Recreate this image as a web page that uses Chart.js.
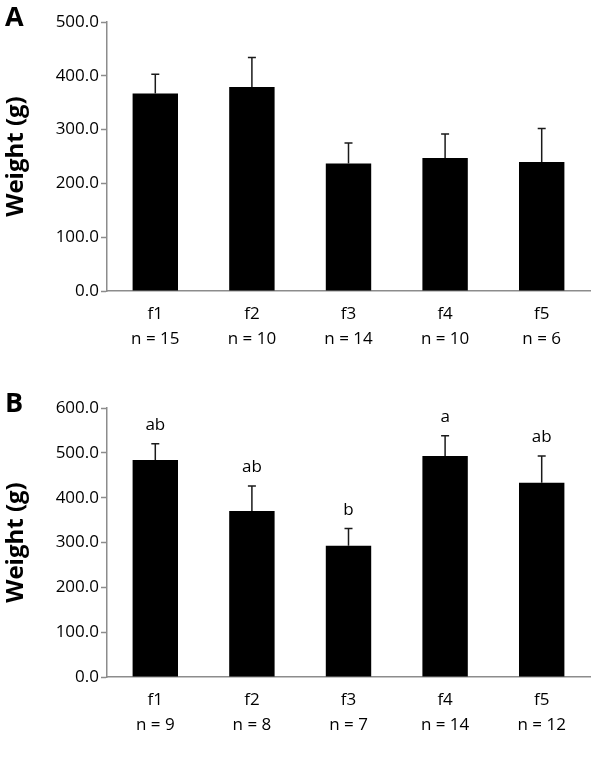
<!DOCTYPE html>
<html>
<head>
<meta charset="utf-8">
<script src="https://cdn.jsdelivr.net/npm/chart.js@4.4.1/dist/chart.umd.min.js"></script>
<style>
  body { margin: 0; background: #fff; }
  .panel { position: relative; width: 600px; }
  #panelA { height: 370px; }
  #panelB { height: 389px; }
</style>
</head>
<body>
<div class="panel" id="panelA"><canvas id="chartA"></canvas></div>
<div class="panel" id="panelB"><canvas id="chartB"></canvas></div>
<script>
// datos
const categorias = ["f1", "f2", "f3", "f4", "f5"];
const nA = [15, 10, 14, 10, 6];
const mediaA = [367, 379, 237, 247, 240];
const errorA = [36, 55, 38, 45, 62];

const nB = [9, 8, 7, 14, 12];
const mediaB = [484, 370, 293, 493, 433];
const errorB = [36, 56, 38, 45, 60];
const letrasB = ["ab", "ab", "b", "a", "ab"];

const fuente = "'Open Sans', sans-serif";
const gris = "#8c8c8c";

// barras de error (solo hacia arriba) y letras
const pluginError = {
  id: "errorBars",
  afterDatasetsDraw(chart, args, opts) {
    const ctx = chart.ctx;
    const meta = chart.getDatasetMeta(0);
    const y = chart.scales.y;
    ctx.save();
    meta.data.forEach((bar, i) => {
      const v = opts.media[i];
      const top = y.getPixelForValue(v + opts.error[i]);
      const base = y.getPixelForValue(v);
      ctx.strokeStyle = "#1a1a1a";
      ctx.lineWidth = 1.5;
      ctx.beginPath();
      ctx.moveTo(bar.x, base);
      ctx.lineTo(bar.x, top);
      ctx.moveTo(bar.x - 4, top);
      ctx.lineTo(bar.x + 4, top);
      ctx.stroke();
      if (opts.letras) {
        ctx.fillStyle = "#000";
        ctx.font = "17px " + fuente;
        ctx.textAlign = "center";
        ctx.textBaseline = "bottom";
        ctx.fillText(opts.letras[i], bar.x, top - 10);
      }
    });
    ctx.restore();
  }
};

const pluginLetra = {
  id: "panelLetra",
  afterDraw(chart, args, opts) {
    const ctx = chart.ctx;
    ctx.save();
    ctx.fillStyle = "#000";
    ctx.font = "bold 27px " + fuente;
    ctx.textAlign = "left";
    ctx.textBaseline = "top";
    ctx.fillText(opts.texto, opts.x, opts.y);
    ctx.restore();
  }
};

function crearGrafico(id, medias, errores, ns, max, letras, panel, padTop, alturaX) {
  const etiquetas = categorias.map((c, i) => [c, "n = " + ns[i]]);
  return new Chart(document.getElementById(id), {
    type: "bar",
    data: {
      labels: etiquetas,
      datasets: [{
        data: medias,
        backgroundColor: "#000",
        borderWidth: 0,
        categoryPercentage: 1,
        barPercentage: 0.47
      }]
    },
    options: {
      responsive: true,
      maintainAspectRatio: false,
      animation: false,
      layout: { padding: { top: padTop, right: 10, left: 0, bottom: 0 } },
      plugins: {
        legend: { display: false },
        tooltip: { enabled: false },
        errorBars: { media: medias, error: errores, letras: letras },
        panelLetra: panel
      },
      scales: {
        x: {
          grid: { display: false, drawTicks: false },
          border: { color: gris, width: 1.5 },
          ticks: {
            color: "#000",
            padding: 11,
            maxRotation: 0,
            font: { family: fuente, size: 17, lineHeight: 1.45 }
          },
          afterFit(scale) { scale.height = alturaX; }
        },
        y: {
          min: 0,
          max: max,
          border: { color: gris, width: 1.5 },
          grid: { drawOnChartArea: false, tickLength: 6, color: gris, tickWidth: 1.5 },
          ticks: {
            stepSize: 100,
            color: "#000",
            padding: 2,
            font: { family: fuente, size: 17 },
            callback: v => v.toFixed(1)
          },
          title: {
            display: true,
            text: "Weight (g)",
            color: "#000",
            font: { family: fuente, size: 24, weight: "bold" },
            padding: { top: 2, bottom: 0 }
          },
          afterFit(scale) { scale.width = 107; }
        }
      }
    },
    plugins: [pluginError, pluginLetra]
  });
}

crearGrafico("chartA", mediaA, errorA, nA, 500, null, { texto: "A", x: 5, y: 5 }, 22, 79);
crearGrafico("chartB", mediaB, errorB, nB, 600, letrasB, { texto: "B", x: 5, y: 21 }, 38, 82);
</script>
</body>
</html>
